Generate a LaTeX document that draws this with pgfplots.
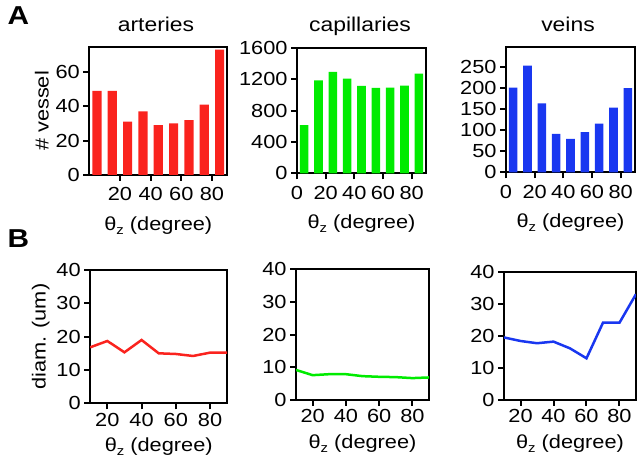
\documentclass[border=0pt]{standalone}
\usepackage{fontspec}
\setmainfont{Liberation Sans}[FakeStretch=1.15]
\usepackage{pgfplots}
\pgfplotsset{compat=1.18}

\definecolor{cred}{RGB}{250,35,30}
\definecolor{cgreen}{RGB}{0,235,0}
\definecolor{cblue}{RGB}{25,55,240}

\pgfplotsset{
  panel/.style={
    scale only axis,
    anchor=south west,
    axis line style={line width=2.2bp},
    every tick/.style={black, line width=2bp},
    major tick length=6bp,
    tick align=outside,
    xtick pos=bottom, ytick pos=left,
    enlargelimits=false,
    tick label style={font=\fontsize{19}{19}\selectfont},
    label style={font=\fontsize{19}{22}\selectfont},
    xlabel style={yshift=-5bp},
    /pgf/number format/assume math mode=true,
    /pgf/number format/1000 sep={},
    xlabel={θ\raisebox{-4bp}{\fontsize{13}{13}\selectfont z} (degree)},
  },
  barpanel/.style={panel, ybar, bar width=6, xmin=0, xmax=90,
    xticklabel style={yshift=-3bp}, xlabel style={yshift=-4bp}},
  linepanel/.style={panel, xmin=10, xmax=90, ymin=0, ymax=40,
    xtick={20,40,60,80}, ytick={0,10,20,30,40}},
}

\begin{document}
\begin{tikzpicture}
\useasboundingbox (0,0) rectangle (640bp,463bp);

% panel labels and titles
\node[anchor=base west, font=\bfseries\fontsize{26}{26}\selectfont] at (4bp,438bp) {A};
\node[anchor=base west, font=\bfseries\fontsize{26}{26}\selectfont] at (4bp,215bp) {B};
\node[anchor=base, font=\fontsize{20}{20}\selectfont] at (156bp,431bp) {arteries};
\node[anchor=base, font=\fontsize{20}{20}\selectfont] at (360bp,431bp) {capillaries};
\node[anchor=base, font=\fontsize{20}{20}\selectfont] at (568bp,431bp) {veins};

% A: vessel counts
\begin{axis}[barpanel, at={(89.3bp,288bp)}, width=138bp, height=128bp,
  ymin=0, ymax=74.5, xtick={20,40,60,80}, ytick={0,20,40,60},
  ylabel={\# vessel}]
\addplot[fill=cred, draw=none] coordinates {
  (5,49) (15,49) (25,31) (35,37) (45,29) (55,30) (65,32) (75,41) (85,73)};
\end{axis}

\begin{axis}[barpanel, at={(297bp,289.7bp)}, width=129bp, height=125.3bp,
  ymin=0, ymax=1600, xtick={0,20,40,60,80}, ytick={0,400,800,1200,1600}]
\addplot[fill=cgreen, draw=none] coordinates {
  (5,615) (15,1188) (25,1294) (35,1210) (45,1116) (55,1091) (65,1095) (75,1120) (85,1273)};
\end{axis}

\begin{axis}[barpanel, at={(506bp,290.7bp)}, width=129bp, height=125.6bp,
  ymin=0, ymax=297, xtick={0,20,40,60,80}, ytick={0,50,100,150,200,250}]
\addplot[fill=cblue, draw=none] coordinates {
  (5,200) (15,252) (25,163) (35,91) (45,79) (55,95) (65,115) (75,153) (85,199)};
\end{axis}

% B: diameters
\begin{axis}[linepanel, at={(90.2bp,59.7bp)}, width=137bp, height=133.3bp,
  ylabel={diam. (um)}]
\addplot[cred, line width=2.5bp] coordinates {
  (10,16.8) (20,18.7) (30,15.3) (40,19.0) (50,15.0) (60,14.8) (70,14.2) (80,15.2) (90,15.2)};
\end{axis}

\begin{axis}[linepanel, at={(296bp,63bp)}, width=133bp, height=130.7bp]
\addplot[cgreen, line width=2.5bp] coordinates {
  (10,9.2) (20,7.6) (30,7.9) (40,7.9) (50,7.3) (60,7.1) (70,7.0) (80,6.7) (90,6.9)};
\end{axis}

\begin{axis}[linepanel, at={(504bp,63bp)}, width=132bp, height=128.3bp]
\addplot[cblue, line width=2.5bp] coordinates {
  (10,19.5) (20,18.4) (30,17.7) (40,18.2) (50,16.1) (60,13.0) (70,24.1) (80,24.1) (90,33.0)};
\end{axis}
\end{tikzpicture}
\end{document}
